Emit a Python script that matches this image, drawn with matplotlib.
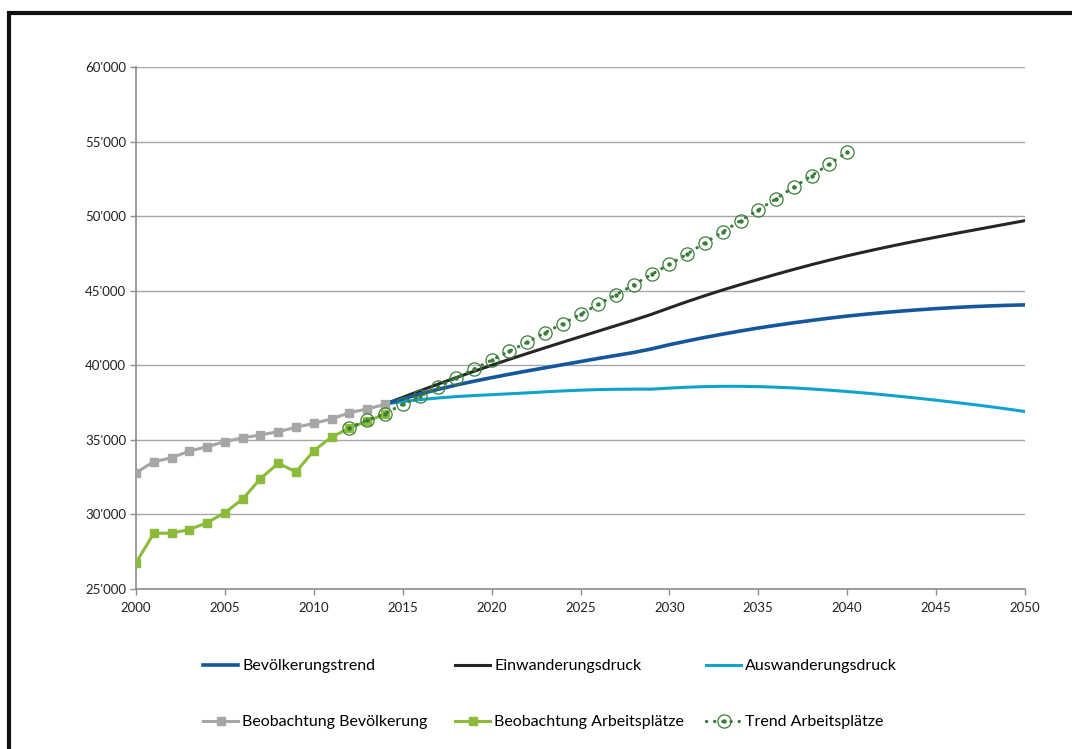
import matplotlib
matplotlib.use("Agg")
import matplotlib.pyplot as plt
from matplotlib.patches import Rectangle
from matplotlib.legend_handler import HandlerTuple
from matplotlib.ticker import FuncFormatter

plt.rcParams['font.family'] = ['Lato', 'DejaVu Sans']

# ---------------- data ----------------
obs_years = list(range(2000, 2015))
obs_population = [32800, 33530, 33800, 34250, 34540, 34880, 35140, 35330, 35550,
                  35840, 36110, 36400, 36820, 37070, 37380]
obs_jobs = [26760, 28730, 28750, 28980, 29450, 30120, 31030, 32400, 33430,
            32850, 34270, 35190, 35780, 36260, 36710]

trend_jobs_years = list(range(2012, 2041))
trend_jobs = [35800, 36330, 36750, 37390, 37940, 38540, 39150, 39730, 40350,
              40940, 41540, 42190, 42790, 43420, 44090, 44730, 45400, 46100,
              46770, 47460, 48220, 48940, 49700, 50410, 51170, 51950, 52710,
              53500, 54280]

proj_years = list(range(2014, 2051))
pop_trend = [37400, 37750, 38080, 38390, 38670, 38930, 39170, 39400, 39620,
             39830, 40040, 40250, 40460, 40660, 40860, 41100, 41380, 41630,
             41870, 42090, 42300, 42500, 42680, 42850, 43010, 43160, 43300,
             43420, 43530, 43630, 43720, 43800, 43870, 43930, 43980, 44020,
             44050]
immigration = [37400, 37850, 38300, 38740, 39170, 39590, 40000, 40400, 40790,
               41170, 41550, 41920, 42290, 42660, 43030, 43420, 43850, 44270,
               44670, 45050, 45410, 45760, 46100, 46430, 46750, 47050, 47340,
               47610, 47870, 48120, 48360, 48590, 48820, 49040, 49260, 49480,
               49700]
emigration = [37400, 37560, 37700, 37810, 37900, 37970, 38030, 38090, 38150,
              38220, 38280, 38330, 38370, 38390, 38400, 38400, 38470, 38530,
              38570, 38590, 38590, 38570, 38530, 38480, 38410, 38330, 38240,
              38140, 38030, 37910, 37790, 37660, 37520, 37380, 37230, 37070,
              36900]

x_ticks = list(range(2000, 2051, 5))
y_ticks = list(range(25000, 60001, 5000))

labels = ["Bevölkerungstrend", "Einwanderungsdruck", "Auswanderungsdruck",
          "Beobachtung Bevölkerung", "Beobachtung Arbeitsplätze", "Trend Arbeitsplätze"]

# ---------------- style ----------------
c_blue = "#14589b"
c_black = "#262626"
c_cyan = "#12a3cc"
c_gray = "#a6a6a6"
c_green = "#8cbb3c"
c_dgreen = "#3a7d3a"

fig = plt.figure(figsize=(10.72, 7.49), dpi=100)
ax = fig.add_axes([136/1072, 1-589/749, (1025-136)/1072, (589-67)/749])

# outer frame
fig.add_artist(Rectangle((9/1072, -0.1), 1.2, 1 - 13/749 + 0.1,
                         transform=fig.transFigure, fill=False,
                         edgecolor="#111111", linewidth=3))

ax.set_xlim(2000, 2050)
ax.set_ylim(25000, 60000)
ax.set_xticks(x_ticks)
ax.set_yticks(y_ticks)
ax.yaxis.set_major_formatter(FuncFormatter(lambda v, p: f"{int(v)//1000}'000"))
ax.grid(axis='y', color="#a6a6a6", linewidth=1.0)
ax.set_axisbelow(True)
for s in ['top', 'right']:
    ax.spines[s].set_visible(False)
for s in ['left', 'bottom']:
    ax.spines[s].set_color("#8c8c8c")
    ax.spines[s].set_linewidth(1.2)
ax.tick_params(axis='both', direction='out', length=4, width=1, color="#8c8c8c",
               labelsize=9.5, labelcolor="#222222")
ax.tick_params(axis='y', pad=3)
ax.tick_params(axis='x', pad=5)

l_pop, = ax.plot(proj_years, pop_trend, color=c_blue, lw=2.6, zorder=4)
l_imm, = ax.plot(proj_years, immigration, color=c_black, lw=2.2, zorder=3)
l_emi, = ax.plot(proj_years, emigration, color=c_cyan, lw=2.2, zorder=3)
l_obsp, = ax.plot(obs_years, obs_population, color=c_gray, lw=2.2,
                  marker='s', ms=6, zorder=5)
l_obsj, = ax.plot(obs_years, obs_jobs, color=c_green, lw=2.2,
                  marker='s', ms=6, zorder=5)
l_tr, = ax.plot(trend_jobs_years, trend_jobs, color=c_dgreen, lw=2.4,
                linestyle=(0, (0.05, 2.4)), dash_capstyle='round',
                marker='o', ms=9.5, mfc='none', mec=c_dgreen, mew=0.9, zorder=6)
l_trd, = ax.plot(trend_jobs_years, trend_jobs, linestyle='none',
                 marker='o', ms=2.2, color=c_dgreen, zorder=7)

# ---------------- legend (manual grid) ----------------
handles = [l_pop, l_imm, l_emi, l_obsp, l_obsj, (l_tr, l_trd)]
xs = [203/1072, 455/1072, 706/1072]
ys = [1 - 666/749, 1 - 722/749]
for i, (h, lab) in enumerate(zip(handles, labels)):
    r, c = divmod(i, 3)
    fig.legend([h], [lab], loc='center left', bbox_to_anchor=(xs[c], ys[r]),
               frameon=False, fontsize=11.5, handlelength=2.2, handletextpad=0.25,
               borderaxespad=0, borderpad=0,
               handler_map={tuple: HandlerTuple(ndivide=1, pad=0)})

fig.savefig("out.png", dpi=100)
